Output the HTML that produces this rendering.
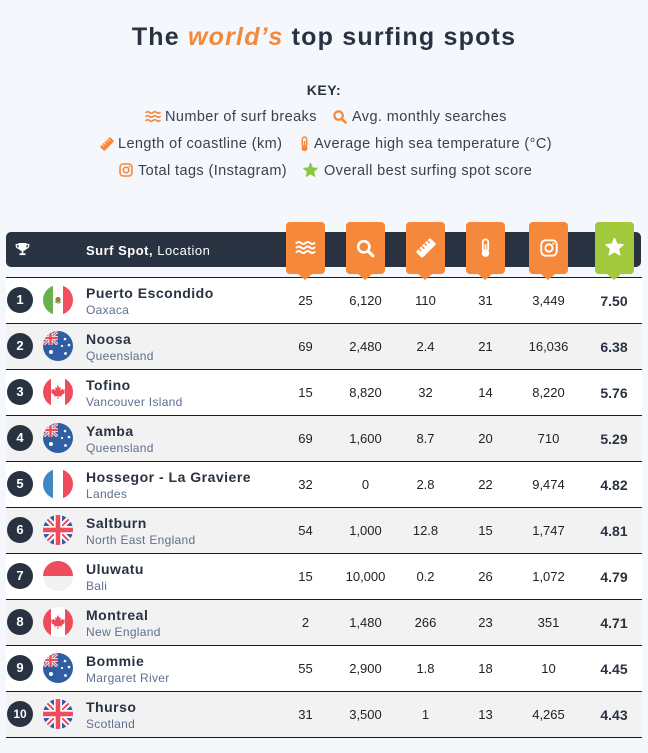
<!DOCTYPE html>
<html><head><meta charset="utf-8">
<style>
*{margin:0;padding:0;box-sizing:border-box}
body{width:648px;height:753px;background:#f4f7fb;font-family:"Liberation Sans",sans-serif;position:relative;overflow:hidden;color:#283241}
.abs{position:absolute}
.title{position:absolute;left:0;top:22px;width:648px;text-align:center;font-size:25px;font-weight:bold;letter-spacing:1.2px;color:#283241;line-height:30px;white-space:nowrap}
.title i{color:#f5883a}
.key{position:absolute;left:0;top:82px;width:648px;text-align:center;font-size:14px;font-weight:bold;color:#283241;letter-spacing:0.5px}
.lg{position:absolute;font-size:14.5px;letter-spacing:0.4px;color:#39414f;white-space:nowrap;line-height:18px}
.bar{position:absolute;left:6px;top:232px;width:635px;height:35px;background:#283241;border-radius:5px}
.hdr{position:absolute;left:86px;top:243px;font-size:13px;color:#fff;letter-spacing:0.5px;white-space:nowrap;line-height:16px}
.row{position:absolute;left:6px;width:636px;height:46px;border-bottom:1px solid #1b1b1b;background:#fff}
.row.g{background:#f2f2f2}
.num{position:absolute;left:1px;top:9px;width:26px;height:26px;border-radius:50%;background:#283241;color:#fff;font-weight:bold;font-size:13px;text-align:center;line-height:26px}
.flag{position:absolute;left:37px;top:7px;width:30px;height:30px;border-radius:50%;overflow:hidden}
.flag svg{display:block}
.nm{position:absolute;left:80px;top:7px;font-size:14px;font-weight:bold;letter-spacing:0.5px;line-height:16px;white-space:nowrap;color:#283241}
.loc{position:absolute;left:80px;top:25px;font-size:12px;letter-spacing:0.3px;line-height:14px;white-space:nowrap;color:#5f6f8f}
.c{position:absolute;top:15px;width:60px;text-align:center;font-size:13px;line-height:16px;color:#222}
.s{font-weight:bold;font-size:14px;color:#283241}
.bx{position:absolute;top:222px;width:39px;height:52px;border-radius:4px;background:#f5883a}
.bx.gr{background:#a2c83b}
.bx:after{content:"";position:absolute;left:12px;top:52px;border-left:7.5px solid transparent;border-right:7.5px solid transparent;border-top:6px solid #f5883a}
.bx.gr:after{border-top-color:#a2c83b}
.bx svg{position:absolute}
</style></head><body>
<svg width="0" height="0" style="position:absolute">
<defs>
<symbol id="uj" viewBox="0 0 30 30">
<rect width="30" height="30" fill="#2f5ea3"/>
<line x1="0" y1="0" x2="30" y2="30" stroke="#fff" stroke-width="6"/>
<line x1="30" y1="0" x2="0" y2="30" stroke="#fff" stroke-width="6"/>
<line x1="0" y1="0" x2="30" y2="30" stroke="#ee4c5d" stroke-width="2"/>
<line x1="30" y1="0" x2="0" y2="30" stroke="#ee4c5d" stroke-width="2"/>
<rect x="0" y="11" width="30" height="8" fill="#fff"/>
<rect x="11" y="0" width="8" height="30" fill="#fff"/>
<rect x="0" y="12.7" width="30" height="4.6" fill="#ee4c5d"/>
<rect x="12.7" y="0" width="4.6" height="30" fill="#ee4c5d"/>
</symbol>
<symbol id="mx" viewBox="0 0 30 30">
<rect width="10" height="30" fill="#6ab04c"/><rect x="10" width="10" height="30" fill="#fff"/><rect x="20" width="10" height="30" fill="#ef4f5f"/>
<circle cx="15" cy="14.5" r="2.6" fill="#a8733d"/><path d="M12 16.5 q3 3 6 0" stroke="#6ab04c" stroke-width="1.2" fill="none"/>
</symbol>
<symbol id="au" viewBox="0 0 30 30">
<rect width="30" height="30" fill="#2f5ea3"/>
<svg x="0" y="0" width="15" height="14" viewBox="0 0 30 30" preserveAspectRatio="none">
<line x1="0" y1="0" x2="30" y2="30" stroke="#fff" stroke-width="6"/>
<line x1="30" y1="0" x2="0" y2="30" stroke="#fff" stroke-width="6"/>
<line x1="0" y1="0" x2="30" y2="30" stroke="#ee4c5d" stroke-width="2.5"/>
<line x1="30" y1="0" x2="0" y2="30" stroke="#ee4c5d" stroke-width="2.5"/>
<rect x="0" y="11" width="30" height="8" fill="#fff"/>
<rect x="11" y="0" width="8" height="30" fill="#fff"/>
<rect x="0" y="12.5" width="30" height="5" fill="#ee4c5d"/>
<rect x="12.5" y="0" width="5" height="30" fill="#ee4c5d"/>
</svg>
<circle cx="22" cy="8" r="1.3" fill="#fff"/><circle cx="26" cy="14" r="1.3" fill="#fff"/><circle cx="19" cy="15" r="1.1" fill="#fff"/><circle cx="22.5" cy="22.5" r="1.4" fill="#fff"/><circle cx="8" cy="21" r="2" fill="#fff"/>
</symbol>
<symbol id="ca" viewBox="0 0 30 30">
<rect width="30" height="30" fill="#fff"/><rect width="8" height="30" fill="#ee4c5d"/><rect x="22" width="8" height="30" fill="#ee4c5d"/>
<path d="M15 8 L16.5 11 L18 10.2 L17.4 13.5 L19.8 11.8 L20.5 13 L22 12.5 L21.2 15.2 L22 15.8 L18.6 18.3 L19 19.6 L15.5 19 L15.5 22 L14.5 22 L14.5 19 L11 19.6 L11.4 18.3 L8 15.8 L8.8 15.2 L8 12.5 L9.5 13 L10.2 11.8 L12.6 13.5 L12 10.2 L13.5 11 Z" fill="#ee4c5d"/>
</symbol>
<symbol id="fr" viewBox="0 0 30 30">
<rect width="10" height="30" fill="#3f88c5"/><rect x="10" width="10" height="30" fill="#fff"/><rect x="20" width="10" height="30" fill="#ee4c5d"/>
</symbol>
<symbol id="id" viewBox="0 0 30 30">
<rect width="30" height="15" fill="#ee4c5d"/><rect y="15" width="30" height="15" fill="#f1f1f1"/>
</symbol>
</defs>
</svg>

<div class="title">The <i>world’s</i> top surfing spots</div>
<div class="key">KEY:</div>

<!-- legend row 1 -->
<svg class="abs" style="left:145px;top:110px" width="16" height="13" viewBox="0 0 16 13"><g fill="none" stroke="#f5883a" stroke-width="1.6" stroke-linecap="round"><path d="M1 2.5 q1.75 -1.6 3.5 0 t3.5 0 t3.5 0 t3.5 0"/><path d="M1 6.5 q1.75 -1.6 3.5 0 t3.5 0 t3.5 0 t3.5 0"/><path d="M1 10.5 q1.75 -1.6 3.5 0 t3.5 0 t3.5 0 t3.5 0"/></g></svg>
<div class="lg" style="left:165px;top:108px">Number of surf breaks</div>
<svg class="abs" style="left:333px;top:110px" width="14" height="14" viewBox="0 0 14 14"><circle cx="5.6" cy="5.6" r="4.2" fill="none" stroke="#f5883a" stroke-width="2.2"/><line x1="8.8" y1="8.8" x2="12.5" y2="12.5" stroke="#f5883a" stroke-width="2.6" stroke-linecap="round"/></svg>
<div class="lg" style="left:352px;top:108px">Avg. monthly searches</div>

<!-- legend row 2 -->
<svg class="abs" style="left:100px;top:137px" width="14" height="14" viewBox="0 0 18 18"><g transform="rotate(-45 9 9)"><rect x="0" y="5" width="18" height="8" rx="1.5" fill="#f5883a"/><g stroke="#f4f7fb" stroke-width="1.2"><line x1="4" y1="5" x2="4" y2="8"/><line x1="7.5" y1="5" x2="7.5" y2="8.5"/><line x1="11" y1="5" x2="11" y2="8"/><line x1="14.5" y1="5" x2="14.5" y2="8.5"/></g></g></svg>
<div class="lg" style="left:118px;top:135px">Length of coastline (km)</div>
<svg class="abs" style="left:300px;top:136px" width="9" height="16" viewBox="0 0 9 16"><rect x="2.3" y="1" width="4.4" height="10" rx="2.2" fill="none" stroke="#f5883a" stroke-width="1.5"/><circle cx="4.5" cy="12.3" r="3" fill="#f5883a"/><line x1="4.5" y1="5" x2="4.5" y2="11" stroke="#f5883a" stroke-width="1.5"/></svg>
<div class="lg" style="left:314px;top:135px">Average high sea temperature (°C)</div>

<!-- legend row 3 -->
<svg class="abs" style="left:119px;top:163px" width="14" height="14" viewBox="0 0 14 14"><rect x="1" y="1" width="12" height="12" rx="3.4" fill="none" stroke="#f5883a" stroke-width="1.6"/><circle cx="7" cy="7" r="2.8" fill="none" stroke="#f5883a" stroke-width="1.6"/><circle cx="10.3" cy="3.7" r="0.8" fill="#f5883a"/></svg>
<div class="lg" style="left:138px;top:162px">Total tags (Instagram)</div>
<svg class="abs" style="left:303px;top:163px" width="15" height="15" viewBox="0 0 20 20"><polygon points="10,0.5 12.47,6.6 19.04,7.06 13.99,11.3 15.58,17.69 10,14.2 4.42,17.69 6.01,11.3 0.96,7.06 7.53,6.6" fill="#8dc63f" stroke="#8dc63f" stroke-width="1.5" stroke-linejoin="round"/></svg>
<div class="lg" style="left:324px;top:162px">Overall best surfing spot score</div>

<!-- header bar -->
<div class="bar"></div>
<svg class="abs" style="left:15px;top:242px" width="15" height="14" viewBox="0 0 15 14"><path d="M3.5 1 H11.5 V5 Q11.5 9 7.5 9 Q3.5 9 3.5 5 Z" fill="#fff"/><path d="M3.5 2.5 H1.2 Q1 6 4 6.5 M11.5 2.5 H13.8 Q14 6 11 6.5" fill="none" stroke="#fff" stroke-width="1.2"/><rect x="6.7" y="8.5" width="1.6" height="3" fill="#fff"/><rect x="4.5" y="11.3" width="6" height="1.8" fill="#fff"/></svg>
<div class="hdr"><b>Surf Spot,</b> Location</div>

<div class="abs" style="left:6px;top:277px;width:636px;height:1px;background:#1b1b1b"></div>

<div class="row" style="top:278px"><div class="num">1</div><div class="flag"><svg width="30" height="30"><use href="#mx"/></svg></div><div class="nm">Puerto Escondido</div><div class="loc">Oaxaca</div>
<div class="c" style="left:269.5px">25</div><div class="c" style="left:329.5px">6,120</div><div class="c" style="left:389.5px">110</div><div class="c" style="left:449.5px">31</div><div class="c" style="left:512.5px">3,449</div><div class="c s" style="left:578px">7.50</div></div>

<div class="row g" style="top:324px"><div class="num">2</div><div class="flag"><svg width="30" height="30"><use href="#au"/></svg></div><div class="nm">Noosa</div><div class="loc">Queensland</div>
<div class="c" style="left:269.5px">69</div><div class="c" style="left:329.5px">2,480</div><div class="c" style="left:389.5px">2.4</div><div class="c" style="left:449.5px">21</div><div class="c" style="left:512.5px">16,036</div><div class="c s" style="left:578px">6.38</div></div>

<div class="row" style="top:370px"><div class="num">3</div><div class="flag"><svg width="30" height="30"><use href="#ca"/></svg></div><div class="nm">Tofino</div><div class="loc">Vancouver Island</div>
<div class="c" style="left:269.5px">15</div><div class="c" style="left:329.5px">8,820</div><div class="c" style="left:389.5px">32</div><div class="c" style="left:449.5px">14</div><div class="c" style="left:512.5px">8,220</div><div class="c s" style="left:578px">5.76</div></div>

<div class="row g" style="top:416px"><div class="num">4</div><div class="flag"><svg width="30" height="30"><use href="#au"/></svg></div><div class="nm">Yamba</div><div class="loc">Queensland</div>
<div class="c" style="left:269.5px">69</div><div class="c" style="left:329.5px">1,600</div><div class="c" style="left:389.5px">8.7</div><div class="c" style="left:449.5px">20</div><div class="c" style="left:512.5px">710</div><div class="c s" style="left:578px">5.29</div></div>

<div class="row" style="top:462px"><div class="num">5</div><div class="flag"><svg width="30" height="30"><use href="#fr"/></svg></div><div class="nm">Hossegor - La Graviere</div><div class="loc">Landes</div>
<div class="c" style="left:269.5px">32</div><div class="c" style="left:329.5px">0</div><div class="c" style="left:389.5px">2.8</div><div class="c" style="left:449.5px">22</div><div class="c" style="left:512.5px">9,474</div><div class="c s" style="left:578px">4.82</div></div>

<div class="row g" style="top:508px"><div class="num">6</div><div class="flag"><svg width="30" height="30"><use href="#uj"/></svg></div><div class="nm">Saltburn</div><div class="loc">North East England</div>
<div class="c" style="left:269.5px">54</div><div class="c" style="left:329.5px">1,000</div><div class="c" style="left:389.5px">12.8</div><div class="c" style="left:449.5px">15</div><div class="c" style="left:512.5px">1,747</div><div class="c s" style="left:578px">4.81</div></div>

<div class="row" style="top:554px"><div class="num">7</div><div class="flag"><svg width="30" height="30"><use href="#id"/></svg></div><div class="nm">Uluwatu</div><div class="loc">Bali</div>
<div class="c" style="left:269.5px">15</div><div class="c" style="left:329.5px">10,000</div><div class="c" style="left:389.5px">0.2</div><div class="c" style="left:449.5px">26</div><div class="c" style="left:512.5px">1,072</div><div class="c s" style="left:578px">4.79</div></div>

<div class="row g" style="top:600px"><div class="num">8</div><div class="flag"><svg width="30" height="30"><use href="#ca"/></svg></div><div class="nm">Montreal</div><div class="loc">New England</div>
<div class="c" style="left:269.5px">2</div><div class="c" style="left:329.5px">1,480</div><div class="c" style="left:389.5px">266</div><div class="c" style="left:449.5px">23</div><div class="c" style="left:512.5px">351</div><div class="c s" style="left:578px">4.71</div></div>

<div class="row" style="top:646px"><div class="num">9</div><div class="flag"><svg width="30" height="30"><use href="#au"/></svg></div><div class="nm">Bommie</div><div class="loc">Margaret River</div>
<div class="c" style="left:269.5px">55</div><div class="c" style="left:329.5px">2,900</div><div class="c" style="left:389.5px">1.8</div><div class="c" style="left:449.5px">18</div><div class="c" style="left:512.5px">10</div><div class="c s" style="left:578px">4.45</div></div>

<div class="row g" style="top:692px"><div class="num" style="font-size:12px">10</div><div class="flag"><svg width="30" height="30"><use href="#uj"/></svg></div><div class="nm">Thurso</div><div class="loc">Scotland</div>
<div class="c" style="left:269.5px">31</div><div class="c" style="left:329.5px">3,500</div><div class="c" style="left:389.5px">1</div><div class="c" style="left:449.5px">13</div><div class="c" style="left:512.5px">4,265</div><div class="c s" style="left:578px">4.43</div></div>

<!-- header icon boxes -->
<div class="bx" style="left:286px"><svg style="left:9px;top:18px" width="21" height="15" viewBox="0 0 21 15"><g fill="none" stroke="#fff" stroke-width="2" stroke-linecap="round"><path d="M1.5 3 q2.25 -2 4.5 0 t4.5 0 t4.5 0 t4.5 0"/><path d="M1.5 7.5 q2.25 -2 4.5 0 t4.5 0 t4.5 0 t4.5 0"/><path d="M1.5 12 q2.25 -2 4.5 0 t4.5 0 t4.5 0 t4.5 0"/></g></svg></div>
<div class="bx" style="left:346px"><svg style="left:10px;top:17px" width="19" height="19" viewBox="0 0 19 19"><circle cx="7.8" cy="7.8" r="5.6" fill="none" stroke="#fff" stroke-width="2.6"/><line x1="12" y1="12" x2="16.8" y2="16.8" stroke="#fff" stroke-width="3.2" stroke-linecap="round"/></svg></div>
<div class="bx" style="left:406px"><svg style="left:10px;top:16px" width="20" height="20" viewBox="0 0 18 18"><g transform="rotate(-45 9 9)"><rect x="0" y="5" width="18" height="8" rx="1.5" fill="#fff"/><g stroke="#f5883a" stroke-width="1.2"><line x1="4" y1="5" x2="4" y2="8"/><line x1="7.5" y1="5" x2="7.5" y2="8.5"/><line x1="11" y1="5" x2="11" y2="8"/><line x1="14.5" y1="5" x2="14.5" y2="8.5"/></g></g></svg></div>
<div class="bx" style="left:466px"><svg style="left:14px;top:16px" width="11" height="20" viewBox="0 0 9 16"><rect x="2.3" y="1" width="4.4" height="10" rx="2.2" fill="none" stroke="#fff" stroke-width="1.5"/><circle cx="4.5" cy="12.3" r="3" fill="#fff"/><line x1="4.5" y1="5" x2="4.5" y2="11" stroke="#fff" stroke-width="1.5"/></svg></div>
<div class="bx" style="left:529px"><svg style="left:11px;top:17px" width="18" height="18" viewBox="0 0 14 14"><rect x="1" y="1" width="12" height="12" rx="3.4" fill="none" stroke="#fff" stroke-width="1.5"/><circle cx="7" cy="7" r="2.8" fill="none" stroke="#fff" stroke-width="1.5"/><circle cx="10.3" cy="3.7" r="0.8" fill="#fff"/></svg></div>
<div class="bx gr" style="left:595px"><svg style="left:10px;top:16px" width="19" height="19" viewBox="0 0 20 20"><polygon points="10,0.5 12.47,6.6 19.04,7.06 13.99,11.3 15.58,17.69 10,14.2 4.42,17.69 6.01,11.3 0.96,7.06 7.53,6.6" fill="#fff" stroke="#fff" stroke-width="1.5" stroke-linejoin="round"/></svg></div>

</body></html>
